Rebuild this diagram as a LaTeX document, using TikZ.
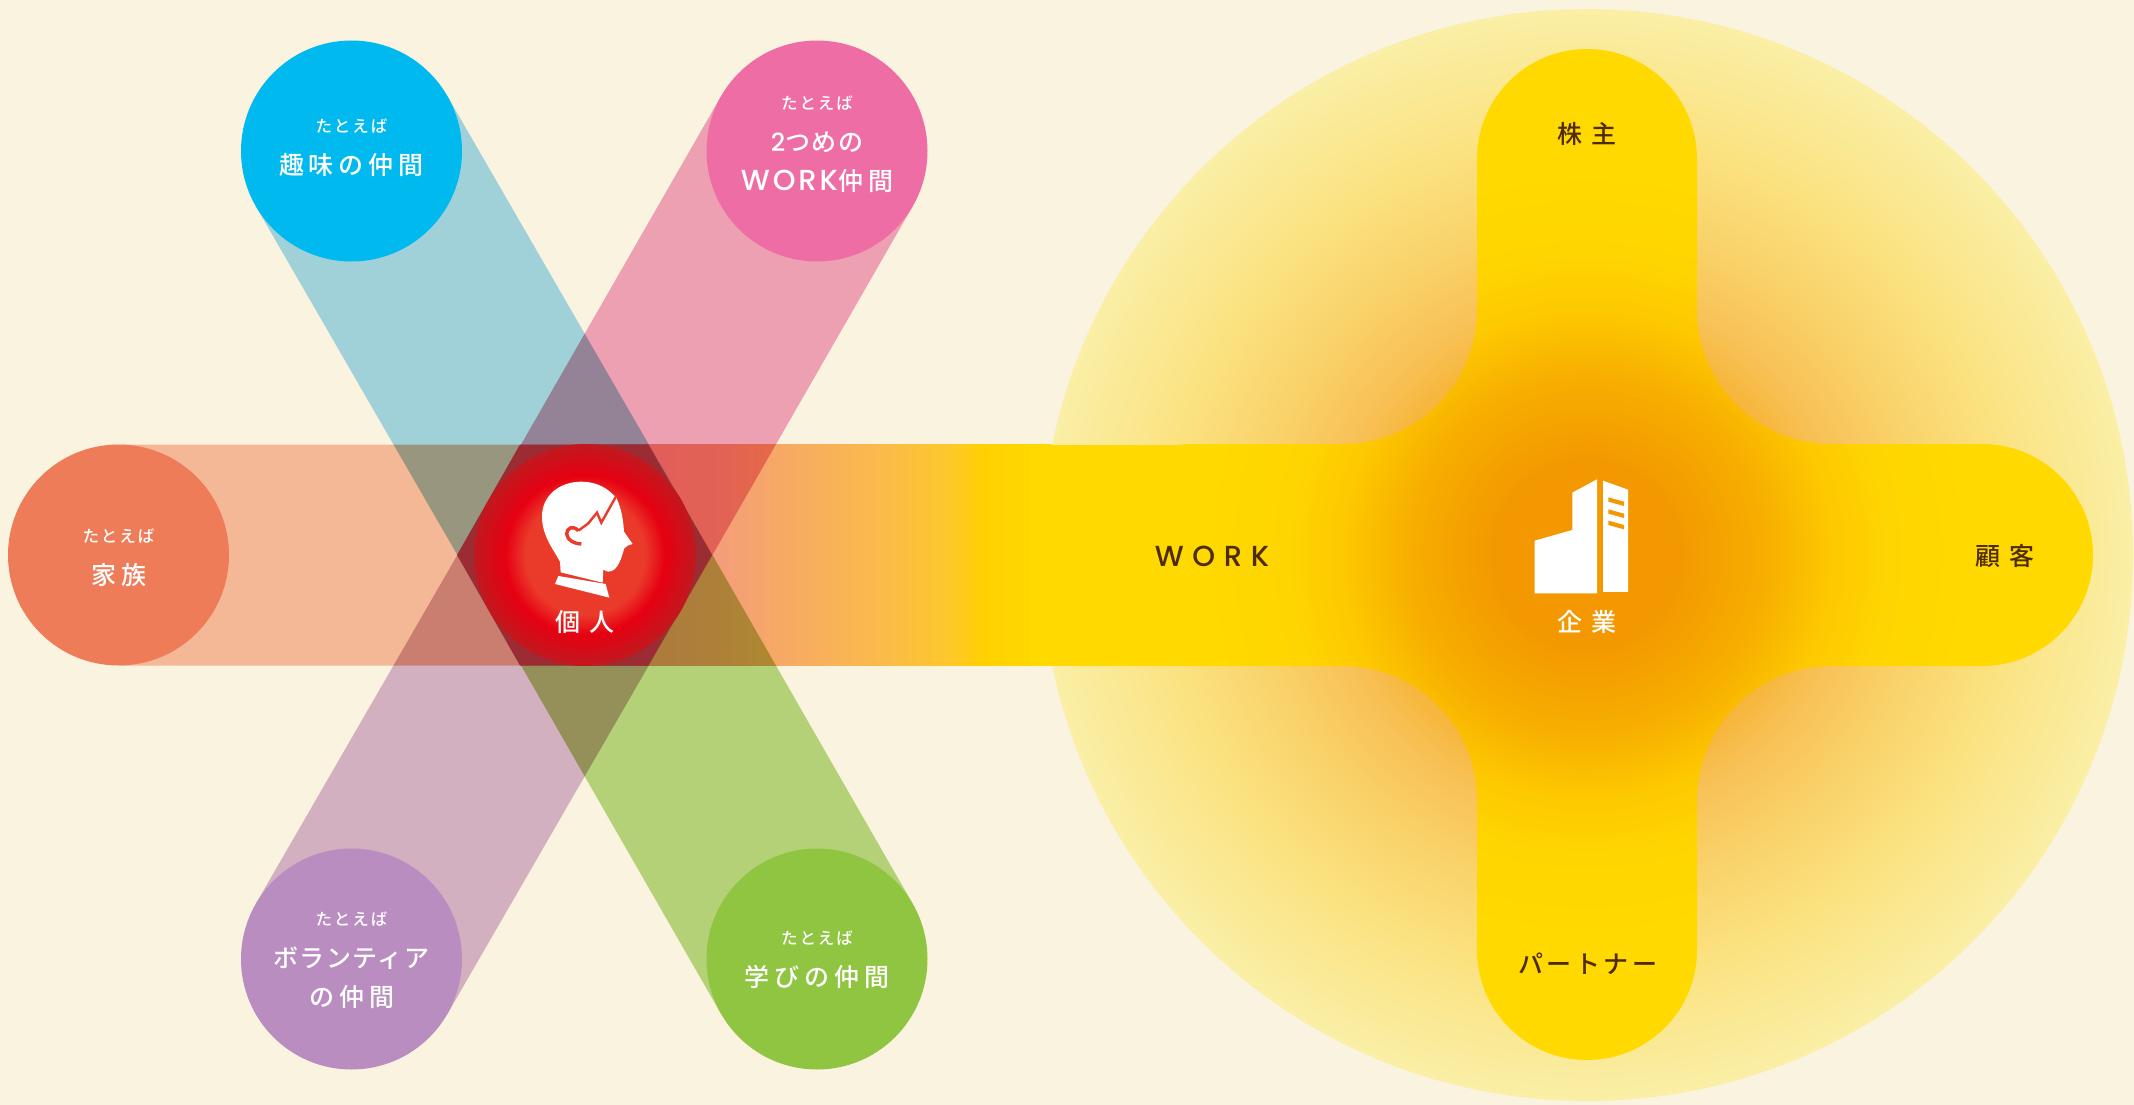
\documentclass[tikz,border=0pt]{standalone}
\usepackage{fontspec}
\setmainfont{Noto Sans CJK JP}
\newfontfamily\jpnote[LetterSpace=12]{Noto Sans CJK JP Medium}
\newfontfamily\jpmain[LetterSpace=20]{Noto Sans CJK JP Medium}
\newfontfamily\jpkana[LetterSpace=6]{Noto Sans CJK JP Medium}
\newfontfamily\jpwide[LetterSpace=37]{Noto Sans CJK JP Medium}
\newfontfamily\jpline[LetterSpace=14]{Noto Sans CJK JP Medium}
\newfontfamily\latinmain[LetterSpace=10]{Poppins Medium}
\newfontfamily\latinwide[LetterSpace=30]{Poppins Medium}
\usetikzlibrary{calc}

\definecolor{paper}{HTML}{FAF3DF}
\definecolor{hobbyblue}{HTML}{00B9EF}
\definecolor{workpink}{HTML}{EE6DA5}
\definecolor{familyred}{HTML}{EF7C58}
\definecolor{helppurple}{HTML}{B98DC0}
\definecolor{studygreen}{HTML}{8FC540}
\definecolor{rayblue}{HTML}{A0D1D9}
\definecolor{raypink}{HTML}{EDA0B2}
\definecolor{raysalmon}{HTML}{F4B896}
\definecolor{raypurple}{HTML}{D3B0BF}
\definecolor{raygreen}{HTML}{B5D178}
\definecolor{hexdark}{HTML}{9B2C33}
\definecolor{darkbrown}{HTML}{4F2C00}
\definecolor{corporange}{HTML}{F39800}
\definecolor{corpyellow}{HTML}{FFD900}
\definecolor{headred}{HTML}{EA3A2A}
\definecolor{headmid}{HTML}{E60012}
\definecolor{headedge}{HTML}{C0191F}

\pgfdeclareradialshading{personglow}{\pgfpoint{0bp}{0bp}}{color(0bp)=(headred); color(13.5bp)=(headred); color(18bp)=(headmid); color(25bp)=(headedge); color(50bp)=(headedge)}
\definecolor{ca}{HTML}{F6AE2A}\definecolor{cb}{HTML}{F8C258}\definecolor{cc}{HTML}{F9D168}\definecolor{cd}{HTML}{FBE280}\definecolor{ce}{HTML}{FAEFA6}
\pgfdeclareradialshading{glowcircle}{\pgfpoint{0bp}{0bp}}{color(0bp)=(corporange); color(8.5bp)=(ca); color(12bp)=(cb); color(15bp)=(cc); color(19.3bp)=(cd); color(25bp)=(ce); color(50bp)=(ce)}
\definecolor{xa}{HTML}{F7AE00}\definecolor{xb}{HTML}{FDC800}\definecolor{xc}{HTML}{FFD500}
\pgfdeclareradialshading{glowcross}{\pgfpoint{0bp}{0bp}}{color(0bp)=(corporange); color(4.5bp)=(corporange); color(8.8bp)=(xa); color(12bp)=(xb); color(15bp)=(xc); color(19bp)=(corpyellow); color(50bp)=(corpyellow)}
\definecolor{ba}{HTML}{F39088}\definecolor{bb}{HTML}{F49C7C}\definecolor{bc}{HTML}{F6A965}\definecolor{bd}{HTML}{FABA4C}\definecolor{be}{HTML}{FDC82A}\definecolor{bf}{HTML}{FFD100}
\pgfdeclarehorizontalshading{workband}{100bp}{color(0bp)=(ba); color(25bp)=(ba); color(32.85bp)=(bb); color(36.95bp)=(bc); color(43bp)=(bd); color(47.4bp)=(be); color(49.5bp)=(bf); color(53.5bp)=(corpyellow); color(100bp)=(corpyellow)}

\tikzstyle{friend} = [circle, minimum size=221pt, inner sep=0pt]
\tikzstyle{friendtext} = [align=center, text=white, inner sep=0pt, font=\fontsize{25}{39}\selectfont]
\tikzstyle{bigtext} = [inner sep=0pt, font=\fontsize{25}{30}\selectfont\jpwide]
\tikzstyle{ray} = [line width=221pt, blend mode=multiply]
\tikzstyle{iconwhite} = [fill=white, draw=none]
\newcommand{\noteline}{{\fontsize{16.5}{20}\selectfont\jpnote たとえば}\\[3pt]}

\begin{document}
\begin{tikzpicture}[x=1pt, y=-1pt, node distance=234pt]
\useasboundingbox (0,0) rectangle (2134,1105);
\fill[paper] (0,0) rectangle (2134,1105);

\node (Person)[friend] at (585,555) {};
\node (Hobby)[friend, left of=Person, xshift=0.5pt, yshift=404pt] {};
\node (SecondWork)[friend, right of=Person, xshift=-2pt, yshift=404pt] {};
\node (Family)[friend, left of=Person, xshift=-232.5pt] {};
\node (Volunteer)[friend, left of=Person, xshift=0.5pt, yshift=-404pt] {};
\node (Study)[friend, right of=Person, xshift=-2pt, yshift=-404pt] {};
\node (Company)[right of=Person, xshift=768pt, inner sep=0pt] {};

\begin{scope}[transparency group]
\draw [ray, rayblue](Hobby.center) -- (Person.center);
\draw [ray, raypink](SecondWork.center) -- (Person.center);
\draw [ray, raysalmon](Family.center) -- (Person.center);
\draw [ray, raypurple](Volunteer.center) -- (Person.center);
\draw [ray, raygreen](Study.center) -- (Person.center);
\shade [shading=workband, blend mode=multiply](585,444.5) rectangle (1400,665.5);
\end{scope}

\shade [shading=glowcircle](Company.center) circle (546);
\fill [corpyellow](1030,444.5) rectangle (1200,665.5);
\shade [shading=glowcross](1477,159) arc (180:360:110) -- (1697,310) arc (180:90:134)
  -- (1982,444) arc (270:450:111) -- (1831,666) arc (270:180:134)
  -- (1697,950) arc (0:180:110) -- (1477,800) arc (0:-90:134)
  -- (1192,666) arc (90:270:111) -- (1343,444) arc (90:0:134) -- cycle;

\fill [hexdark](457,555) -- (520,444.5) -- (648,444.5) -- (712,555) -- (648,665.5) -- (520,665.5) -- cycle;
\shade [shading=personglow](Person.center) circle (111);
\fill [hobbyblue](Hobby) circle (110.5);
\fill [workpink](SecondWork) circle (110.5);
\fill [familyred](Family) circle (110.5);
\fill [helppurple](Volunteer) circle (110.5);
\fill [studygreen](Study) circle (110.5);

\node (HobbyText)[friendtext, yshift=3pt] at (Hobby) {\noteline{\jpmain 趣味の仲間}};
\node (SecondWorkText)[friendtext, yshift=7pt] at (SecondWork) {\noteline{\latinmain 2}{\jpkana つめの}\\{\fontsize{29}{39}\selectfont\latinmain WORK}{\jpmain 仲間}};
\node (FamilyText)[friendtext, yshift=-3pt] at (Family) {\noteline{\jpmain 家族}};
\node (VolunteerText)[friendtext, yshift=-1pt] at (Volunteer) {\noteline{\jpkana ボランティア}\\{\jpmain の仲間}};
\node (StudyText)[friendtext, yshift=-1pt] at (Study) {\noteline{\jpmain 学びの仲間}};

\node (PersonText)[bigtext, text=white, below of=Person, yshift=167pt] {個人};
\node (CompanyText)[bigtext, text=white, below of=Company, yshift=167pt] {企業};
\node (Holder)[bigtext, text=darkbrown, above of=Company, yshift=187pt] {株主};
\node (Customer)[bigtext, text=darkbrown, right of=Company, xshift=184pt, yshift=-1pt] {顧客};
\node (Partner)[bigtext, text=darkbrown, below of=Company, xshift=1pt, yshift=-175pt, font=\fontsize{25}{30}\selectfont\jpline] {パートナー};
\node (WorkText)[inner sep=0pt, text=darkbrown, left of=Company, xshift=-141pt, yshift=-1pt, font=\fontsize{29}{30}\selectfont\latinwide] {WORK};

\begin{scope}[shift={(440,420)}, x=0.3333pt, y=-0.3333pt]
\fill [iconwhite](362,457) -- (360,425) .. controls (345,395) and (306,350) .. (306,290)
  .. controls (306,225) and (360,185) .. (425,185) .. controls (470,185) and (505,205) .. (530,235)
  .. controls (545,270) and (550,300) .. (552,335) -- (578,372) .. controls (565,376) and (558,378) .. (553,385)
  .. controls (545,410) and (535,455) .. (505,455) .. controls (500,455) and (495,452) .. (490,448)
  -- (488,488) -- cycle;
\draw [headred, line width=2.4pt](530,226) -- (484,308) -- (471,278) -- (445,310) -- (415,332);
\draw [headred, line width=3.4pt](415,332) .. controls (398,314) and (380,325) .. (380,342)
  .. controls (382,362) and (405,372) .. (424,372);
\fill [iconwhite](355,468) -- (497,492) -- (508,533) -- (345,492) -- cycle;
\end{scope}

\begin{scope}[shift={(1480,450)}, x=0.3333pt, y=-0.3333pt]
\fill [iconwhite](164,272) -- (277,240) -- (277,128) -- (351,88) -- (351,430) -- (164,430) -- cycle;
\fill [iconwhite](369,92) -- (444,119) -- (444,426) -- (369,426) -- cycle;
\foreach \ystripe in {142,178,212}
  \fill [corporange](385,\ystripe) -- (432,\ystripe+13) -- (432,\ystripe+26) -- (385,\ystripe+13) -- cycle;
\end{scope}
\end{tikzpicture}
\end{document}
